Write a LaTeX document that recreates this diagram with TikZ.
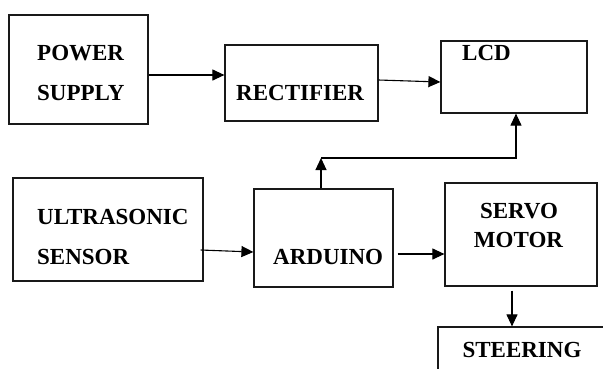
\documentclass[tikz,border=0pt]{standalone}
\usepackage{fontspec}
\setmainfont{Liberation Serif}
\usetikzlibrary{arrows.meta}
\definecolor{edge}{gray}{0.1}

\begin{document}
\begin{tikzpicture}[x=1pt,y=-1pt,
    blk/.style={draw=edge,line width=1.2pt,inner sep=0pt},
    lbl/.style={anchor=base west,inner sep=0pt,font=\fontsize{23}{27}\selectfont\bfseries},
    arr/.style={line width=1.1pt,-{Triangle[length=12pt,width=11pt]}}]
  \useasboundingbox (0,0) rectangle (603,368);
  \node[blk,minimum width=139pt,minimum height=109pt] (pwr) at (78.5,69.5) {};
  \node[blk,minimum width=153pt,minimum height=76pt] (rect) at (301.5,83) {};
  \node[blk,minimum width=146pt,minimum height=72pt] (lcd) at (514,77) {};
  \node[blk,minimum width=190pt,minimum height=103pt] (ultra) at (108,229.5) {};
  \node[blk,minimum width=139pt,minimum height=98pt] (ard) at (323.5,238) {};
  \node[blk,minimum width=152pt,minimum height=103pt] (servo) at (521,234.5) {};
  \node[blk,minimum width=212pt,minimum height=73pt] (steer) at (544,363.5) {};
  \node[lbl] (pwrA) at (37,60) {POWER};
  \node[lbl] (pwrB) at (37,100) {SUPPLY};
  \node[lbl] (rectT) at (236,100) {RECTIFIER};
  \node[lbl] (lcdT) at (462,60) {LCD};
  \node[lbl] (ultraA) at (37,224) {ULTRASONIC};
  \node[lbl] (ultraB) at (37,264) {SENSOR};
  \node[lbl] (ardT) at (273,264) {ARDUINO};
  \node[lbl,anchor=base] (servoA) at (519,218) {SERVO};
  \node[lbl,anchor=base] (servoB) at (518.5,247) {MOTOR};
  \node[lbl,anchor=base] (steerT) at (522,357) {STEERING};
  \draw[arr] ([yshift=-5.5pt]pwr.east) -- ([yshift=8pt]rect.west);
  \draw[arr] ([yshift=3pt]rect.east) -- ([yshift=-5pt]lcd.west);
  \draw[arr] ([xshift=-3pt,yshift=-20.5pt]ultra.east) -- ([yshift=-14pt]ard.west);
  \coordinate (as) at ([xshift=4pt,yshift=-16pt]ard.east);
  \draw[arr] (as) -- (as -| servo.west);
  \coordinate (ss) at ([xshift=-9pt,yshift=-4pt]servo.south);
  \draw[arr] (ss) -- (ss |- steer.north);
  \coordinate (bend) at (321,158);
  \draw[arr] ([xshift=-2.5pt]ard.north) -- (bend);
  \draw[arr] (bend) -| ([xshift=2pt]lcd.south);
\end{tikzpicture}
\end{document}
